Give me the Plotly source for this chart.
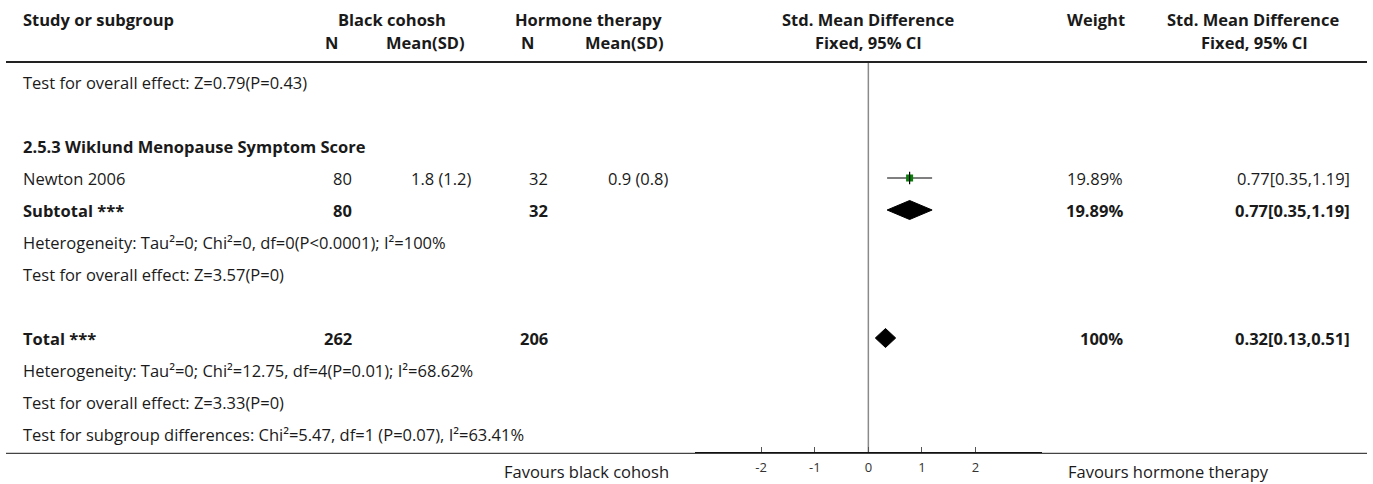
import plotly.graph_objects as go

W, H = 1373, 484
FONT = "Open Sans"
TXT = "#1a1a1a"
FS = 16.5

# ---------------- data ----------------
studies = ["Newton 2006"]
bc_n = [80]
bc_mean_sd = ["1.8 (1.2)"]
ht_n = [32]
ht_mean_sd = ["0.9 (0.8)"]
smd = [0.77]
ci_lo = [0.35]
ci_hi = [1.19]
weights = ["19.89%"]
ci_text = ["0.77[0.35,1.19]"]

sub_n_bc, sub_n_ht = [80], [32]
sub_smd, sub_lo, sub_hi = [0.77], [0.35], [1.19]
sub_weight, sub_ci_text = ["19.89%"], ["0.77[0.35,1.19]"]

tot_n_bc, tot_n_ht = [262], [206]
tot_smd, tot_lo, tot_hi = [0.32], [0.13], [0.51]
tot_weight, tot_ci_text = ["100%"], ["0.32[0.13,0.51]"]

tick_vals = [-2, -1, 0, 1, 2]
tick_text = ["-2", "-1", "0", "1", "2"]

# row indices (y axis in row units)
ROW_TEST1 = 0
ROW_GROUP = 2
ROW_STUDY = 3
ROW_SUB = 4
ROW_HET1 = 5
ROW_TEST2 = 6
ROW_TOT = 8
ROW_HET2 = 9
ROW_TEST3 = 10
ROW_SUBG = 11

Y0, DY = 82.0, 32.0  # pixel of row 0 and row spacing


def py(p):
    return 1 - p / H


def px(p):
    return p / W


def rowpx(r):
    return Y0 + DY * r


fig = go.Figure()

# study CI line + square
fig.add_trace(go.Scatter(x=[ci_lo[0], ci_hi[0]], y=[ROW_STUDY, ROW_STUDY], mode="lines",
                         line=dict(color="black", width=1), hoverinfo="skip", showlegend=False))
fig.add_trace(go.Scatter(x=smd, y=[ROW_STUDY], mode="markers",
                         marker=dict(symbol="square", size=7, color="#0b7d0b", line=dict(width=0)),
                         showlegend=False))
fig.add_trace(go.Scatter(x=smd, y=[ROW_STUDY], mode="markers",
                         marker=dict(symbol="line-ns", size=9, line=dict(color="black", width=1.2)),
                         showlegend=False))

HALF = 9.5 / DY


def diamond(m, lo, hi, r):
    fig.add_trace(go.Scatter(x=[lo, m, hi, m, lo], y=[r, r - HALF, r, r + HALF, r],
                             mode="lines", fill="toself", fillcolor="black",
                             line=dict(color="black", width=1), showlegend=False, hoverinfo="skip"))


diamond(sub_smd[0], sub_lo[0], sub_hi[0], ROW_SUB)
diamond(tot_smd[0], tot_lo[0], tot_hi[0], ROW_TOT)

ann = []


def text(x, ypx, s, anchor="left", bold=False, size=FS, color=TXT):
    ann.append(dict(x=px(x), y=py(ypx), xref="paper", yref="paper", text=(f"<b>{s}</b>" if bold else s),
                    showarrow=False, xanchor=anchor, yanchor="middle",
                    font=dict(family=FONT, size=size, color=color)))


# header
text(21, 20, "Study or subgroup", bold=True)
text(392, 20, "Black cohosh", "center", bold=True)
text(588.6, 20, "Hormone therapy", "center", bold=True)
text(868, 20, "Std. Mean Difference", "center", bold=True)
text(1095.5, 20, "Weight", "center", bold=True)
text(1253, 20, "Std. Mean Difference", "center", bold=True)
text(331, 42, "N", "center", bold=True)
text(425.5, 42, "Mean(SD)", "center", bold=True)
text(527.7, 42, "N", "center", bold=True)
text(624, 42, "Mean(SD)", "center", bold=True)
text(868, 42, "Fixed, 95% CI", "center", bold=True)
text(1254, 42, "Fixed, 95% CI", "center", bold=True)

text(21, rowpx(ROW_TEST1), "Test for overall effect: Z=0.79(P=0.43)")
text(21, rowpx(ROW_GROUP), "2.5.3 Wiklund Menopause Symptom Score", bold=True)
for i, s in enumerate(studies):
    y = rowpx(ROW_STUDY + i)
    text(21, y, s)
    text(354, y, str(bc_n[i]), "right")
    text(474.5, y, bc_mean_sd[i], "right")
    text(550, y, str(ht_n[i]), "right")
    text(671, y, ht_mean_sd[i], "right")
    text(1125, y, weights[i], "right")
    text(1352, y, ci_text[i], "right")

y = rowpx(ROW_SUB)
text(21, y, "Subtotal ***", bold=True)
text(354, y, str(sub_n_bc[0]), "right", bold=True)
text(550, y, str(sub_n_ht[0]), "right", bold=True)
text(1125, y, sub_weight[0], "right", bold=True)
text(1352, y, sub_ci_text[0], "right", bold=True)
text(21, rowpx(ROW_HET1), "Heterogeneity: Tau²=0; Chi²=0, df=0(P<0.0001); I²=100%")
text(21, rowpx(ROW_TEST2), "Test for overall effect: Z=3.57(P=0)")

y = rowpx(ROW_TOT)
text(21, y, "Total ***", bold=True)
text(354, y, str(tot_n_bc[0]), "right", bold=True)
text(550, y, str(tot_n_ht[0]), "right", bold=True)
text(1125, y, tot_weight[0], "right", bold=True)
text(1352, y, tot_ci_text[0], "right", bold=True)
text(21, rowpx(ROW_HET2), "Heterogeneity: Tau²=0; Chi²=12.75, df=4(P=0.01); I²=68.62%")
text(21, rowpx(ROW_TEST3), "Test for overall effect: Z=3.33(P=0)")
text(21, rowpx(ROW_SUBG), "Test for subgroup differences: Chi²=5.47, df=1 (P=0.07), I²=63.41%")

text(671, 471, "Favours black cohosh", "right")
text(1066, 471, "Favours hormone therapy", "left")

AXIS_Y = 453.3
shapes = [
    dict(type="line", xref="paper", yref="paper", x0=px(6), x1=px(1367), y0=py(62), y1=py(62),
         line=dict(color="#222", width=2)),
    dict(type="line", xref="paper", yref="paper", x0=px(6), x1=px(1367), y0=py(AXIS_Y), y1=py(AXIS_Y),
         line=dict(color="#444", width=1.3)),
    dict(type="line", xref="x", yref="paper", x0=0, x1=0, y0=py(62), y1=py(AXIS_Y),
         line=dict(color="#8a8a8a", width=1.5), layer="below"),
]

ymin_row = -Y0 / DY
ymax_row = (H - Y0) / DY

fig.update_layout(
    width=W, height=H, autosize=False,
    margin=dict(l=0, r=0, t=0, b=0),
    paper_bgcolor="white", plot_bgcolor="rgba(0,0,0,0)",
    showlegend=False,
    annotations=ann, shapes=shapes,
    xaxis=dict(domain=[px(695), px(1041.7)], range=[-3.235, 3.235], anchor="free",
               position=py(AXIS_Y), showline=True, linecolor="black", linewidth=2,
               ticks="inside", ticklen=5, tickcolor="#555", tickwidth=1,
               tickvals=tick_vals, ticktext=tick_text, showgrid=False, zeroline=False,
               ticklabelstandoff=2,
               tickfont=dict(family=FONT, size=13, color="#333"), fixedrange=True),
    yaxis=dict(domain=[0, 1], range=[ymax_row, ymin_row], visible=False, showgrid=False,
               zeroline=False, fixedrange=True),
)

fig.write_html("out.html")
